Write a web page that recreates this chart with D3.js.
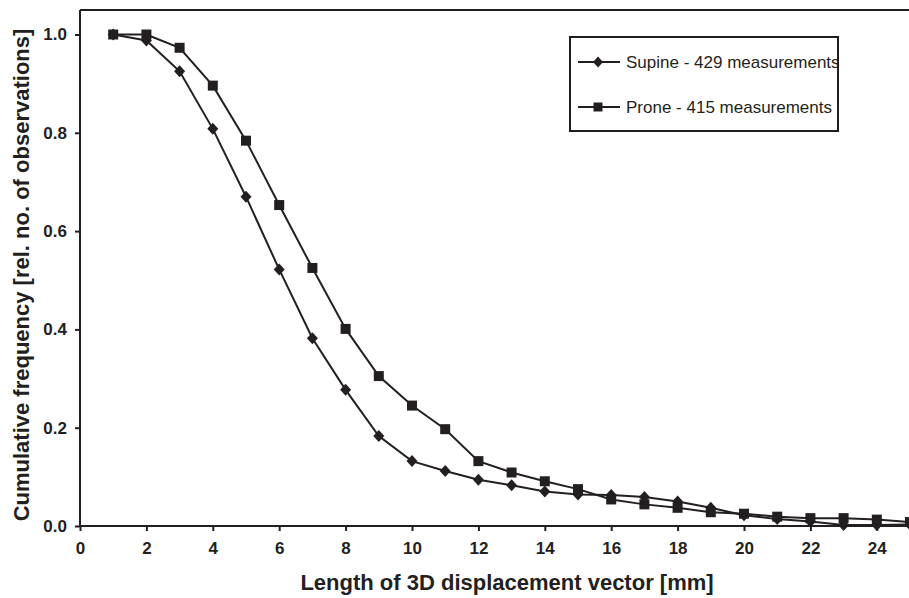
<!DOCTYPE html>
<html>
<head>
<meta charset="utf-8">
<script src="https://cdn.jsdelivr.net/npm/d3@7"></script>
<style>
  html, body { margin: 0; padding: 0; background: #fff; }
  svg { display: block; font-family: "Liberation Sans", Arial, sans-serif; }
</style>
</head>
<body>
<svg id="chart" width="909" height="598"></svg>
<script>
// Chart data
const lengths = [1, 2, 3, 4, 5, 6, 7, 8, 9, 10, 11, 12, 13, 14, 15, 16, 17, 18, 19, 20, 21, 22, 23, 24, 25];
const supine = [1.0, 0.988, 0.925, 0.808, 0.670, 0.522, 0.382, 0.277, 0.183, 0.132, 0.112, 0.094, 0.083, 0.070, 0.064, 0.063, 0.059, 0.050, 0.037, 0.022, 0.014, 0.009, 0.002, 0.002, 0.003];
const prone = [1.0, 1.0, 0.973, 0.896, 0.784, 0.653, 0.525, 0.401, 0.305, 0.245, 0.197, 0.132, 0.109, 0.091, 0.075, 0.054, 0.044, 0.037, 0.028, 0.025, 0.019, 0.016, 0.016, 0.013, 0.008];
const xTicks = [0, 2, 4, 6, 8, 10, 12, 14, 16, 18, 20, 22, 24];
const yTicks = [0.0, 0.2, 0.4, 0.6, 0.8, 1.0];
const seriesNames = ['Supine - 429 measurements', 'Prone - 415 measurements'];

const ink = '#231f20';
const svg = d3.select('#chart');

const x = d3.scaleLinear().domain([0, 25]).range([80, 910]);
const y = d3.scaleLinear().domain([0, 1]).range([526, 34.5]);

// marker paths
function diamond(cx, cy, w, h) {
    return `M${cx},${cy - h / 2}L${cx + w / 2},${cy}L${cx},${cy + h / 2}L${cx - w / 2},${cy}Z`;
}
function square(cx, cy, s) {
    return `M${cx - s / 2},${cy - s / 2}h${s}v${s}h${-s}Z`;
}

// top border of the plot frame
svg.append('line')
    .attr('x1', 80).attr('x2', 909)
    .attr('y1', 10).attr('y2', 10)
    .attr('stroke', ink).attr('stroke-width', 2);

// y axis
const yAxis = svg.append('g')
    .attr('transform', 'translate(80,0)')
    .call(d3.axisLeft(y).tickValues(yTicks).tickFormat(d3.format('.1f')).tickSize(5).tickPadding(8));
yAxis.select('.domain').attr('d', `M0,10V${y(0)}`);

// x axis
const xAxis = svg.append('g')
    .attr('transform', `translate(0,${y(0)})`)
    .call(d3.axisBottom(x).tickValues(xTicks).tickSize(5).tickPadding(11));
xAxis.select('.domain').attr('d', 'M80,0H909');

svg.selectAll('.tick text')
    .attr('font-size', 17)
    .attr('font-weight', 'bold')
    .attr('font-family', '"Liberation Sans", Arial, sans-serif')
    .attr('fill', ink);
svg.selectAll('.domain, .tick line')
    .attr('stroke', ink)
    .attr('stroke-width', 2);

// axis titles
svg.append('text')
    .attr('x', 507).attr('y', 590)
    .attr('text-anchor', 'middle')
    .attr('font-size', 22).attr('font-weight', 'bold')
    .attr('fill', ink)
    .text('Length of 3D displacement vector [mm]');

svg.append('text')
    .attr('transform', 'translate(29,275) rotate(-90)')
    .attr('text-anchor', 'middle')
    .attr('font-size', 22).attr('font-weight', 'bold')
    .attr('fill', ink)
    .text('Cumulative frequency [rel. no. of observations]');

// series lines and markers
const plot = svg.append('g');
const line = d3.line().x(d => x(d[0])).y(d => y(d[1]));

const supinePts = lengths.map((l, i) => [l, supine[i]]);
const pronePts = lengths.map((l, i) => [l, prone[i]]);

[supinePts, pronePts].forEach(pts => {
    plot.append('path')
        .attr('d', line(pts))
        .attr('fill', 'none')
        .attr('stroke', ink)
        .attr('stroke-width', 2);
});

plot.selectAll('path.sup')
    .data(supinePts)
    .enter()
    .append('path')
    .attr('class', 'sup')
    .attr('d', d => diamond(x(d[0]), y(d[1]), 11, 12))
    .attr('fill', ink);

plot.selectAll('path.pro')
    .data(pronePts)
    .enter()
    .append('path')
    .attr('class', 'pro')
    .attr('d', d => square(x(d[0]), y(d[1]), 10))
    .attr('fill', ink);

// legend
const legend = svg.append('g');
legend.append('rect')
    .attr('x', 570).attr('y', 37)
    .attr('width', 268).attr('height', 94)
    .attr('fill', '#fff')
    .attr('stroke', ink).attr('stroke-width', 2);

seriesNames.forEach((name, i) => {
    const ly = 62 + i * 45;
    legend.append('line')
        .attr('x1', 578).attr('x2', 620)
        .attr('y1', ly).attr('y2', ly)
        .attr('stroke', ink).attr('stroke-width', 2);
    legend.append('path')
        .attr('d', i === 0 ? diamond(598, ly, 10, 11) : square(598, ly, 9))
        .attr('fill', ink);
    legend.append('text')
        .attr('x', 626).attr('y', ly + 6)
        .attr('font-size', 17)
        .attr('fill', ink)
        .text(name);
});
</script>
</body>
</html>
